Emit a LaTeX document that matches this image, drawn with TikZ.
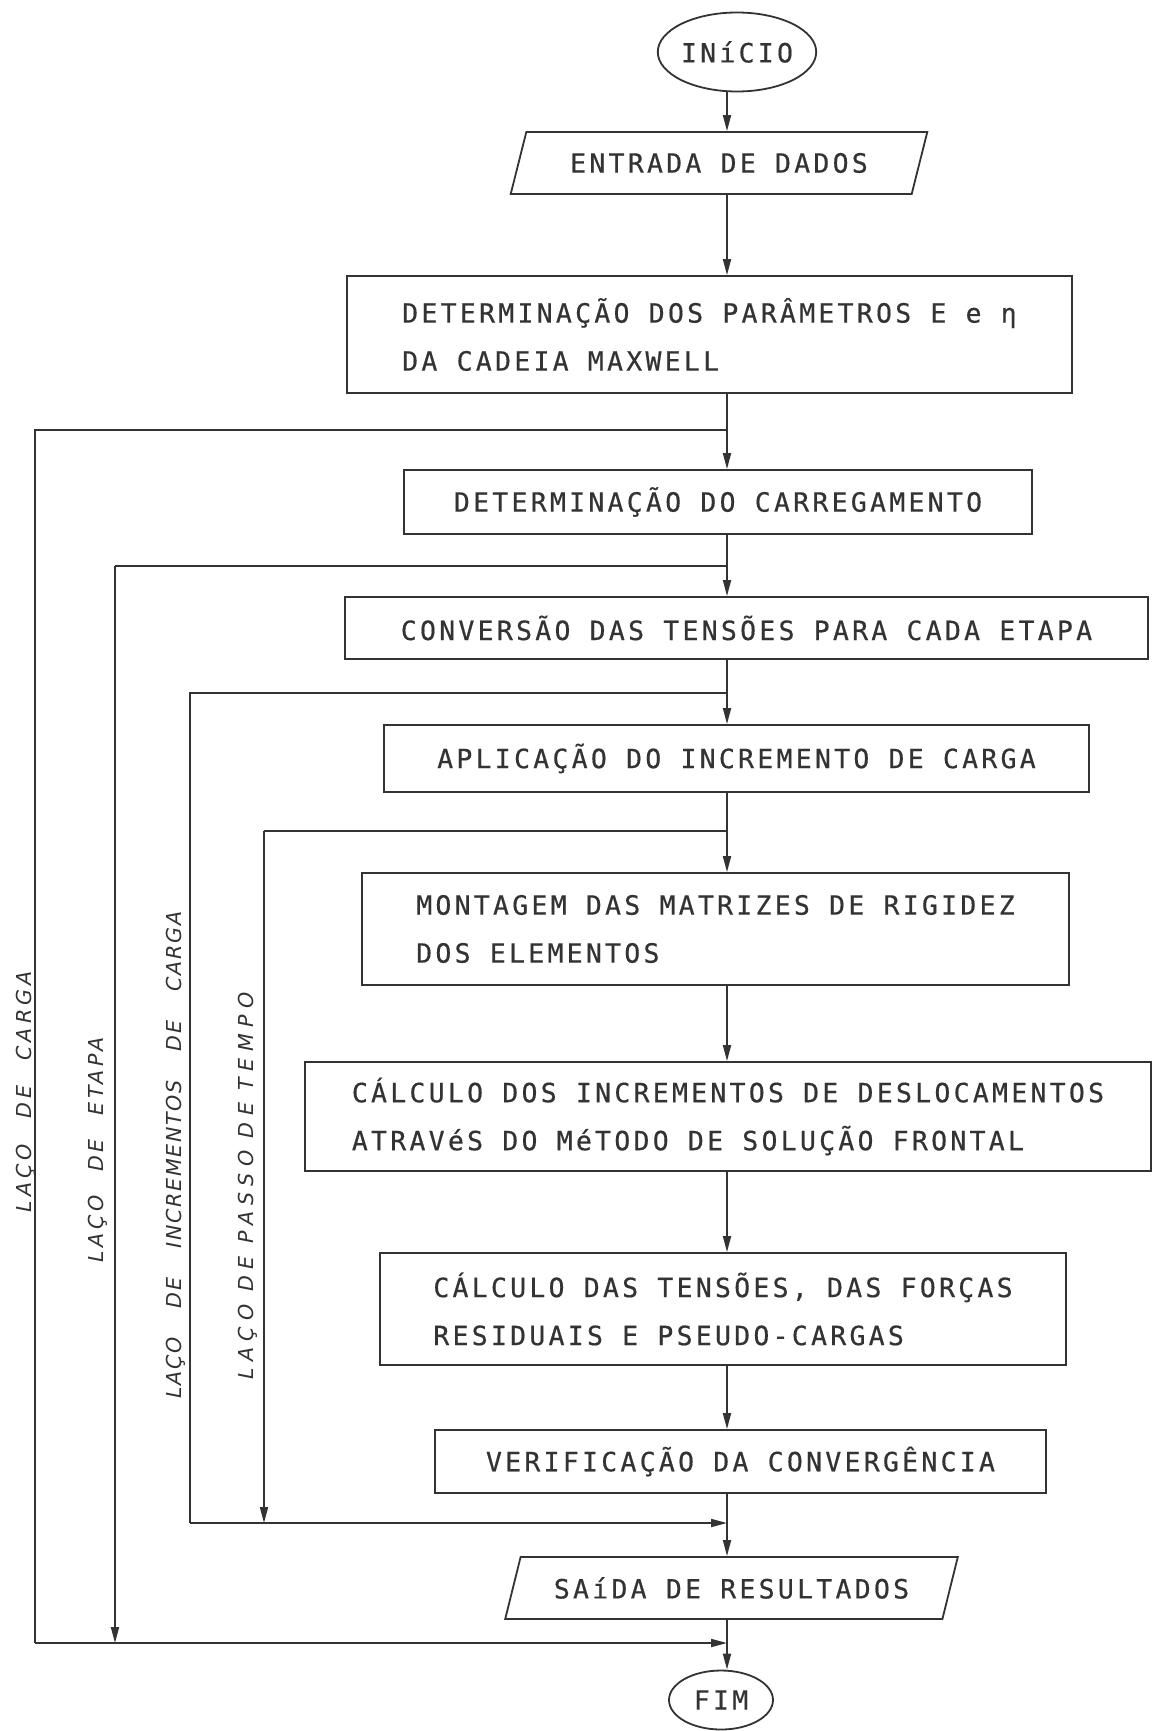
\documentclass[tikz,border=0pt]{standalone}
\usepackage{fontspec}
\usetikzlibrary{shapes.geometric,arrows.meta}
\newfontfamily\boxfont[LetterSpace=12.3,FakeBold=0.5]{DejaVu Sans Mono}
\newfontfamily\labfont{DejaVu Sans Oblique}
\definecolor{ink}{gray}{0.2}
\newcommand{\looplabel}[2]{{\addfontfeature{LetterSpace=#1}#2}}
\begin{document}
\begin{tikzpicture}[x=1pt,y=-1pt,line width=1.8pt,draw=ink,text=ink,
  txt/.style={font=\boxfont\fontsize{26.5}{48}\selectfont},
  proc/.style={draw,rectangle,inner sep=0pt,align=left,txt},
  io/.style={draw,trapezium,trapezium left angle=59,trapezium right angle=121,
    trapezium stretches=true,inner sep=0pt,txt},
  term/.style={draw,ellipse,inner sep=0pt,txt},
  arr/.style={-{Triangle[length=16pt,width=8pt]}},
  lab/.style={rotate=90,inner sep=0pt,font=\labfont\fontsize{20.6}{20.6}\selectfont}]
\useasboundingbox[fill=white] (0,0) rectangle (1155,1731);

% nodes
\node[term,minimum width=138pt,minimum height=79pt] (inicio) at (737,52) {INíCIO};
\node[io,minimum width=418pt,minimum height=62pt] (entrada) at (719,163) {ENTRADA DE DADOS};
\node[proc,minimum width=725pt,minimum height=117pt] (b1) at (709.5,334.5)
  {DETERMINAÇÃO DOS PARÂMETROS E e η\\DA CADEIA MAXWELL};
\node[proc,minimum width=628pt,minimum height=64pt] (b2) at (718,502) {DETERMINAÇÃO DO CARREGAMENTO};
\node[proc,minimum width=803pt,minimum height=62pt] (b3) at (746.5,628) {CONVERSÃO DAS TENSÕES PARA CADA ETAPA};
\node[proc,minimum width=705pt,minimum height=67pt] (b4) at (736.5,758.5) {APLICAÇÃO DO INCREMENTO DE CARGA};
\node[proc,minimum width=707pt,minimum height=112pt] (b5) at (715.5,929)
  {MONTAGEM DAS MATRIZES DE RIGIDEZ\\DOS ELEMENTOS};
\node[proc,minimum width=846pt,minimum height=109pt] (b6) at (728,1116.5)
  {CÁLCULO DOS INCREMENTOS DE DESLOCAMENTOS\\ATRAVéS DO MéTODO DE SOLUÇÃO FRONTAL};
\node[proc,minimum width=686pt,minimum height=112pt] (b7) at (723,1309)
  {CÁLCULO DAS TENSÕES, DAS FORÇAS\\RESIDUAIS E PSEUDO-CARGAS};
\node[proc,minimum width=611pt,minimum height=63pt] (b8) at (740.5,1461.5) {VERIFICAÇÃO DA CONVERGÊNCIA};
\node[io,minimum width=455pt,minimum height=62pt] (saida) at (731.5,1588) {SAíDA DE RESULTADOS};
\node[term,minimum width=104pt,minimum height=59pt] (fim) at (721,1700) {FIM};

% loop labels
\node[lab] (lab1) at (26,1092)
  {\looplabel{19.4}{LAÇO\hspace{25.5pt}DE\hspace{25.5pt}CARGA}};
\node[lab] (lab2) at (98,1150)
  {\looplabel{17}{LAÇO\hspace{24pt}DE\hspace{24pt}ETAPA}};
\node[lab] (lab3) at (176,1155)
  {\looplabel{8.3}{LAÇO\hspace{29pt}DE\hspace{29pt}INCREMENTOS\hspace{29pt}DE\hspace{29pt}CARGA}};
\node[lab] (lab4) at (248,1186)
  {\looplabel{31.6}{LAÇO\hspace{12.4pt}DE\hspace{12.4pt}PASSO\hspace{12.4pt}DE\hspace{12.4pt}TEMPO}};

% coordinates
\coordinate (mx) at (727,0);
\coordinate (j1) at (727,430);
\coordinate (j2) at (727,566);
\coordinate (j3) at (727,693);
\coordinate (j4) at (727,831);
\coordinate (r34) at (727,1523);
\coordinate (r12) at (727,1643);
\coordinate (l1b) at (35,1643);
\coordinate (l2t) at (115,566);
\coordinate (l2b) at (115,1643);
\coordinate (l3b) at (190,1523);
\coordinate (l4t) at (264,831);
\coordinate (l4b) at (264,1523);

% main flow
\draw[arr] (inicio.south -| mx) -- (entrada.north -| mx);
\draw[arr] (entrada.south -| mx) -- (b1.north -| mx);
\draw[arr] (b1.south -| mx) -- (b2.north -| mx);
\draw[arr] (b2.south -| mx) -- (b3.north -| mx);
\draw[arr] (b3.south -| mx) -- (b4.north -| mx);
\draw[arr] (b4.south -| mx) -- (b5.north -| mx);
\draw[arr] (b5.south -| mx) -- (b6.north -| mx);
\draw[arr] (b6.south -| mx) -- (b7.north -| mx);
\draw[arr] (b7.south -| mx) -- (b8.north -| mx);
\draw[arr] (b8.south -| mx) -- (saida.north -| mx);
\draw[arr] (saida.south -| mx) -- (fim.north -| mx);

% loops
\draw (j1) -| (l1b);
\draw[arr] (l1b) -- (r12);
\draw (j2) -- (l2t);
\draw[arr] (l2t) -- (l2b);
\draw (j3) -| (l3b);
\draw[arr] (l3b) -- (r34);
\draw (j4) -- (l4t);
\draw[arr] (l4t) -- (l4b);
\end{tikzpicture}
\end{document}
